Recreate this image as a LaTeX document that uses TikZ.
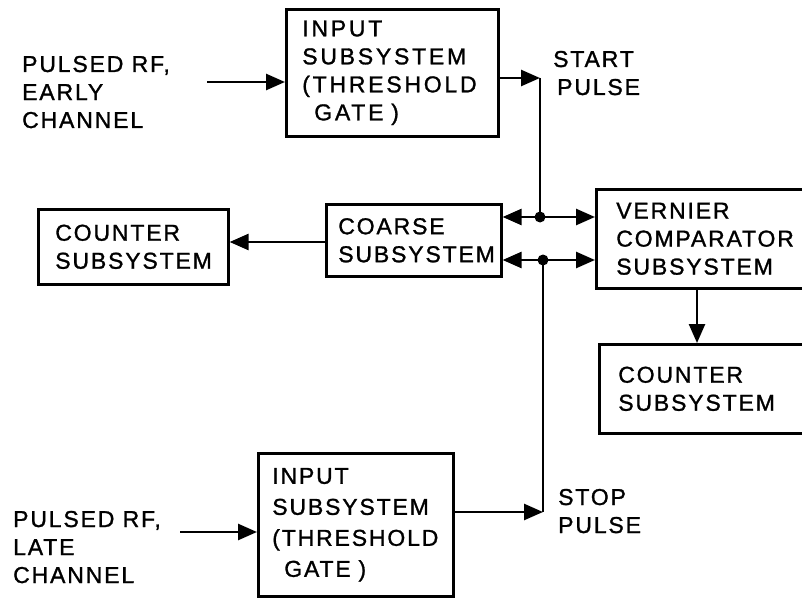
\documentclass[tikz,border=0pt]{standalone}
\usepackage{fontspec}
\setmainfont{Liberation Sans}[LetterSpace=8,FakeBold=1.2]
\usetikzlibrary{arrows.meta}
\begin{document}
\begin{tikzpicture}[x=1pt,y=-1pt,
  lbl/.style={font=\fontsize{23}{28}\selectfont, align=left, inner sep=0pt, anchor=base west},
  box/.style={draw, line width=2.6pt, font=\fontsize{23}{28}\selectfont, align=left, anchor=north west, inner ysep=0pt},
  conn/.style={line width=2.6pt},
  arr/.style={conn, -{Triangle[length=19pt,width=16pt]}},
  dot/.style={circle, fill, inner sep=0pt, minimum size=11pt}]
\useasboundingbox (0,0) rectangle (802,599);
% boxes
\node[box, minimum height=127pt, inner xsep=16pt, text width=180pt,
  font=\fontsize{23}{28}\selectfont\addfontfeature{LetterSpace=12}] (in1) at (285,8)
  {INPUT\\SUBSYSTEM\\(THRESHOLD\\\hspace*{12pt}GATE )};
\node[box, minimum height=143pt, inner xsep=14pt, text width=167pt,
  font=\fontsize{23}{31}\selectfont] (in2) at (257,452)
  {INPUT\\SUBSYSTEM\\(THRESHOLD\\\hspace*{12pt}GATE )};
\node[box, minimum height=72pt, inner xsep=12pt, text width=151pt] (coarse) at (325,203)
  {COARSE\\SUBSYSTEM};
\node[box, minimum height=75pt, inner xsep=17pt, text width=156pt] (cnt1) at (37,208)
  {COUNTER\\SUBSYSTEM};
\node[box, minimum height=99pt, inner xsep=20pt, text width=180pt] (vern) at (595,188)
  {VERNIER\\COMPARATOR\\SUBSYSTEM};
\node[box, minimum height=89pt, inner xsep=19pt, text width=180pt] (cnt2) at (598,343)
  {COUNTER\\SUBSYSTEM};
% labels (base anchor = last line's baseline)
\node[lbl] (lab1) at (22,128) {PULSED RF,\\EARLY\\CHANNEL};
\node[lbl] (lab2) at (13,583) {PULSED RF,\\LATE\\CHANNEL};
\node[lbl] (start) at (553,95) {START\\\hspace*{4pt}PULSE};
\node[lbl] (stop) at (558,533) {STOP\\PULSE};
% junctions
\coordinate (c1) at (207,82);
\coordinate (c2) at (180,532);
\coordinate (o1) at (540,78);
\coordinate (o2) at (543,512);
\node[dot] (j1) at (540,217) {};
\node[dot] (j2) at (543,260) {};
% connectors
\draw[arr] (c1) -- (c1 -| in1.west);
\draw[arr] (c2) -- (c2 -| in2.west);
\draw[arr] (in1.east |- o1) -- (o1);
\draw[conn] (o1) -- (j1.center);
\draw[arr] (in2.east |- o2) -- (o2);
\draw[conn] (o2) -- (j2.center);
\draw[arr] (j1.center) -- (j1 -| coarse.east);
\draw[arr] (j1.center) -- (j1 -| vern.west);
\draw[arr] (j2.center) -- (j2 -| coarse.east);
\draw[arr] (j2.center) -- (j2 -| vern.west);
\coordinate (m1) at (325,242);
\draw[arr] (coarse.west |- m1) -- (cnt1.east |- m1);
\coordinate (m2) at (697,300);
\draw[arr] (vern.south -| m2) -- (cnt2.north -| m2);
\end{tikzpicture}
\end{document}
